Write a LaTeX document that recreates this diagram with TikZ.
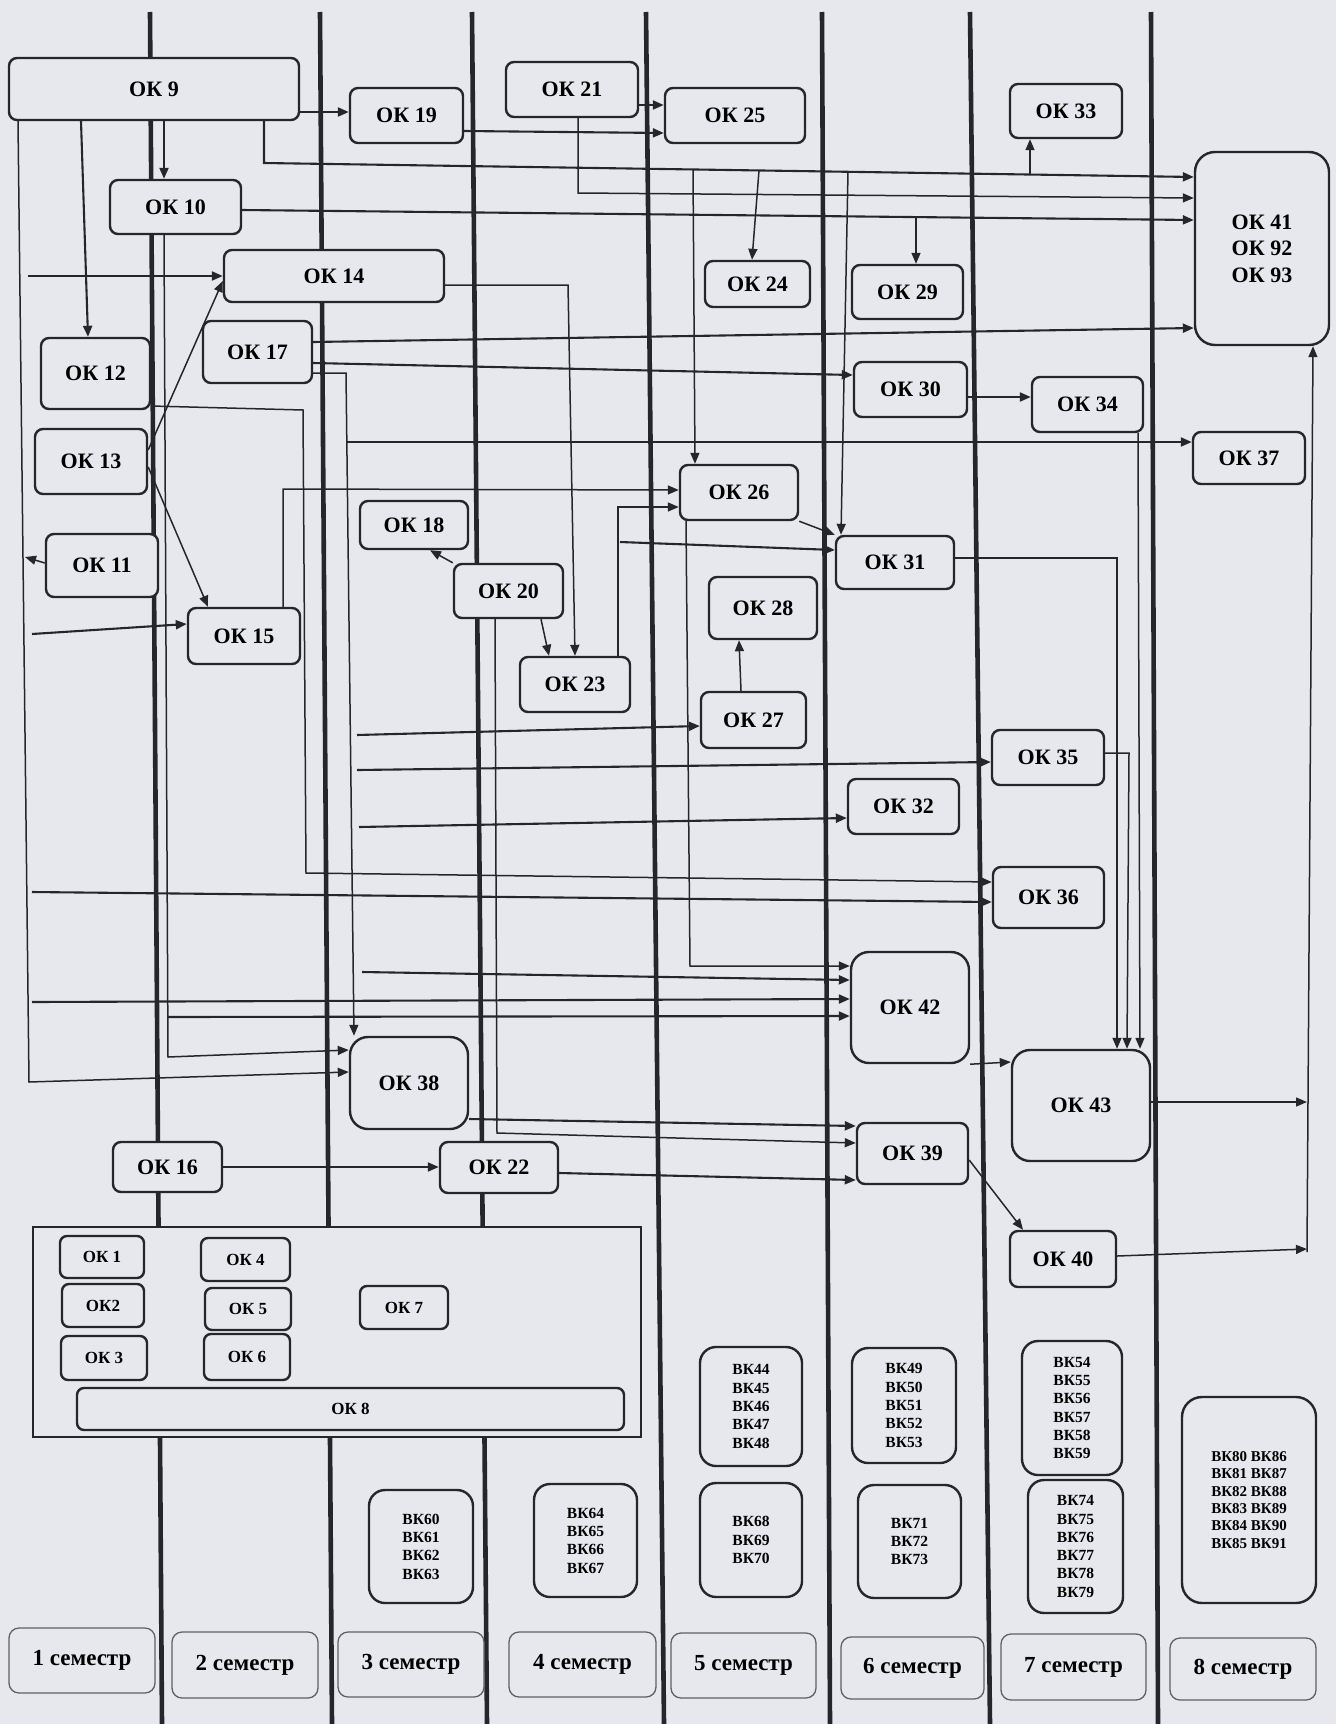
\documentclass[tikz,border=0pt]{standalone}
\usepackage{fontspec}
\setmainfont{Liberation Serif}
\usetikzlibrary{arrows.meta}
\definecolor{bg}{RGB}{231,232,238}
\definecolor{ink}{RGB}{38,38,42}
\definecolor{semink}{RGB}{95,95,100}
\begin{document}
\begin{tikzpicture}[x=1pt,y=-1pt,
  box/.style={draw=ink, line width=2.4pt, fill=bg, rounded corners=8pt, inner sep=0pt, align=center,
     font=\fontsize{22}{26.5}\selectfont\bfseries},
  bigbox/.style={box, rounded corners=18pt},
  sbox/.style={box, rounded corners=7pt, font=\fontsize{17}{20}\selectfont\bfseries},
  bkbox/.style={box, rounded corners=16pt, font=\fontsize{15.5}{18.3}\selectfont\bfseries},
  semlab/.style={draw=semink, line width=1.3pt, fill=bg, rounded corners=10pt, inner sep=0pt,
     font=\fontsize{23}{26}\selectfont\bfseries},
  semline/.style={draw=ink, line width=4.6pt},
  con/.style={draw=ink, line width=2.1pt},
  thin/.style={draw=ink, line width=1.5pt},
  arr/.style={-{Triangle[length=11pt,width=9pt]}}
]
\useasboundingbox (0,0) rectangle (1336,1724);
\fill[bg] (0,0) rectangle (1336,1724);

% semester lines
\draw[semline] (150,12) -- (162,1724);
\draw[semline] (320,12) -- (332,1724);
\draw[semline] (472,12) -- (487,1724);
\draw[semline] (646,12) -- (664,1724);
\draw[semline] (822,12) -- (830,1724);
\draw[semline] (970,12) -- (990,1724);
\draw[semline] (1151,12) -- (1158,1724);

% nodes
\node[box, minimum width=290, minimum height=62] (n9) at (154,89) {ОК 9};
\node[box, minimum width=113, minimum height=55] (n19) at (406.5,115.5) {ОК 19};
\node[box, minimum width=132, minimum height=55] (n21) at (572,89.5) {ОК 21};
\node[box, minimum width=140, minimum height=55] (n25) at (735,115.5) {ОК 25};
\node[box, minimum width=112, minimum height=54] (n33) at (1066,111) {ОК 33};
\node[box, rounded corners=20pt, minimum width=134, minimum height=193] (n41) at (1262,248.5) {ОК 41\\ОК 92\\ОК 93};
\node[box, minimum width=131, minimum height=54] (n10) at (175.5,207) {ОК 10};
\node[box, minimum width=220, minimum height=52] (n14) at (334,276) {ОК 14};
\node[box, minimum width=105, minimum height=46] (n24) at (757.5,284) {ОК 24};
\node[box, minimum width=111, minimum height=54] (n29) at (907.5,292) {ОК 29};
\node[box, minimum width=109, minimum height=62] (n17) at (257.5,352) {ОК 17};
\node[box, minimum width=109, minimum height=71] (n12) at (95.5,373.5) {ОК 12};
\node[box, minimum width=113, minimum height=55] (n30) at (910.5,389.5) {ОК 30};
\node[box, minimum width=111, minimum height=55] (n34) at (1087.5,404.5) {ОК 34};
\node[box, minimum width=112, minimum height=52] (n37) at (1249,458) {ОК 37};
\node[box, minimum width=112, minimum height=65] (n13) at (91,461.5) {ОК 13};
\node[box, minimum width=112, minimum height=63] (n11) at (102,565.5) {ОК 11};
\node[box, minimum width=112, minimum height=56] (n15) at (244,636) {ОК 15};
\node[box, minimum width=108, minimum height=48] (n18) at (414,525) {ОК 18};
\node[box, minimum width=109, minimum height=54] (n20) at (508.5,591) {ОК 20};
\node[box, minimum width=110, minimum height=55] (n23) at (575,684.5) {ОК 23};
\node[box, minimum width=118, minimum height=55] (n26) at (739,492.5) {ОК 26};
\node[box, minimum width=118, minimum height=53] (n31) at (895,562.5) {ОК 31};
\node[box, minimum width=108, minimum height=62] (n28) at (763,608) {ОК 28};
\node[box, minimum width=105, minimum height=56] (n27) at (753.5,720) {ОК 27};
\node[box, minimum width=112, minimum height=55] (n35) at (1048,757.5) {ОК 35};
\node[box, minimum width=111, minimum height=55] (n32) at (903.5,806.5) {ОК 32};
\node[box, minimum width=111, minimum height=61] (n36) at (1048.5,897.5) {ОК 36};
\node[bigbox, minimum width=118, minimum height=111] (n42) at (910,1007.5) {ОК 42};
\node[bigbox, minimum width=138, minimum height=111] (n43) at (1081,1105.5) {ОК 43};
\node[box, minimum width=111, minimum height=61] (n39) at (912.5,1153.5) {ОК 39};
\node[box, minimum width=106, minimum height=56] (n40) at (1063,1259) {ОК 40};
\node[bigbox, minimum width=118, minimum height=92] (n38) at (409,1083) {ОК 38};
\node[box, minimum width=109, minimum height=50] (n16) at (167.5,1167) {ОК 16};
\node[box, minimum width=118, minimum height=51] (n22) at (499,1167.5) {ОК 22};

% group of general courses
\node[draw=ink, line width=2.6pt, fill=bg, minimum width=608, minimum height=210, inner sep=0pt] (grp) at (337,1332) {};
\node[sbox, minimum width=84, minimum height=42] (n1) at (102,1257) {ОК 1};
\node[sbox, minimum width=89, minimum height=43] (n4) at (245.5,1259.5) {ОК 4};
\node[sbox, minimum width=82, minimum height=43] (n2) at (103,1305.5) {ОК2};
\node[sbox, minimum width=86, minimum height=42] (n5) at (248,1309) {ОК 5};
\node[sbox, minimum width=88, minimum height=43] (n7) at (404,1307.5) {ОК 7};
\node[sbox, minimum width=86, minimum height=44] (n3) at (104,1358) {ОК 3};
\node[sbox, minimum width=86, minimum height=46] (n6) at (247,1357) {ОК 6};
\node[sbox, minimum width=547, minimum height=42] (n8) at (350.5,1409) {ОК 8};

% elective blocks
\node[bkbox, minimum width=104, minimum height=113] (bk60) at (421,1546.5) {ВК60\\ВК61\\ВК62\\ВК63};
\node[bkbox, minimum width=103, minimum height=113] (bk64) at (585.5,1540.5) {ВК64\\ВК65\\ВК66\\ВК67};
\node[bkbox, minimum width=102, minimum height=119] (bk44) at (751,1406.5) {ВК44\\ВК45\\ВК46\\ВК47\\ВК48};
\node[bkbox, minimum width=102, minimum height=114] (bk68) at (751,1540) {ВК68\\ВК69\\ВК70};
\node[bkbox, minimum width=104, minimum height=115] (bk49) at (904,1405.5) {ВК49\\ВК50\\ВК51\\ВК52\\ВК53};
\node[bkbox, minimum width=103, minimum height=113] (bk71) at (909.5,1541.5) {ВК71\\ВК72\\ВК73};
\node[bkbox, minimum width=100, minimum height=134] (bk54) at (1072,1408) {ВК54\\ВК55\\ВК56\\ВК57\\ВК58\\ВК59};
\node[bkbox, minimum width=95, minimum height=133] (bk74) at (1075.5,1546.5) {ВК74\\ВК75\\ВК76\\ВК77\\ВК78\\ВК79};
\node[bkbox, rounded corners=20pt, minimum width=134, minimum height=206, font=\fontsize{15}{17.3}\selectfont\bfseries] (bk80) at (1249,1500) {ВК80 ВК86\\ВК81 ВК87\\ВК82 ВК88\\ВК83 ВК89\\ВК84 ВК90\\ВК85 ВК91};

% semester labels
\node[semlab, minimum width=146, minimum height=65] (s1) at (82,1660.5) {1 семестр};
\node[semlab, minimum width=146, minimum height=66] (s2) at (245,1665) {2 семестр};
\node[semlab, minimum width=146, minimum height=65] (s3) at (411,1664.5) {3 семестр};
\node[semlab, minimum width=147, minimum height=65] (s4) at (582.5,1664.5) {4 семестр};
\node[semlab, minimum width=145, minimum height=65] (s5) at (743.5,1665.5) {5 семестр};
\node[semlab, minimum width=143, minimum height=62] (s6) at (912.5,1668) {6 семестр};
\node[semlab, minimum width=145, minimum height=66] (s7) at (1073.5,1667) {7 семестр};
\node[semlab, minimum width=146, minimum height=62] (s8) at (1243,1669) {8 семестр};

% free ends and bend points
\coordinate (s14) at (28,276);
\coordinate (s15) at (32,634);
\coordinate (s36) at (32,892);
\coordinate (s42b) at (32,1002);
\coordinate (s27) at (357,735);
\coordinate (s35) at (357,770);
\coordinate (s32) at (359,827);
\coordinate (s42a) at (362,972);
\coordinate (lv9) at (29,1082);
\coordinate (lv11) at (25,557);
\coordinate (b9) at (264,163);
\coordinate (bb26) at (693,169.5);
\coordinate (bb24) at (759,170.4);
\coordinate (bb31) at (848,171.8);
\coordinate (bb33) at (1030,174.5);
\coordinate (b21) at (578,193);
\coordinate (bb29) at (916,217);
\coordinate (b10) at (168,1057);
\coordinate (bb10) at (167,1017);
\coordinate (b12a) at (303,410);
\coordinate (b12b) at (306,873);
\coordinate (b14) at (568,285);
\coordinate (b17) at (346,373);
\coordinate (bb37) at (347,442);
\coordinate (b15) at (283,489);
\coordinate (b20) at (497,1133);
\coordinate (b23) at (618,507);
\coordinate (bb31b) at (620,542);
\coordinate (b26) at (690,966);
\coordinate (b31) at (1117,558);
\coordinate (b35) at (1129,753);
\coordinate (r43) at (1307,1102);
\coordinate (r40) at (1307,1249);
\coordinate (rv) at (1307,1252);

% connectors
\draw[con,arr] (n9.east |- 0,112) -- (n19.west |- 0,112);
\draw[con,arr] (n9.south -| 164,0) -- (n10.north -| 164,0);
\draw[con,arr] (n9.south -| 81,0) -- (n12.north -| 88,0);
\draw[thin,arr] (n9.south -| 18,0) -- (lv9) -- (n38.west |- 0,1072);
\draw[thin,arr] (n11.west |- 0,563) -- (lv11);
\draw[con,arr] (n9.south -| 264,0) -- (b9) -- (n41.west |- 0,177);
\draw[thin,arr] (bb26) -- (n26.north -| 695,0);
\draw[thin,arr] (bb24) -- (n24.north -| 752,0);
\draw[thin,arr] (bb31) -- (n31.north -| 841,0);
\draw[thin,arr] (bb33) -- (n33.south -| 1030,0);
\draw[con,arr] (n21.east |- 0,105) -- (n25.west |- 0,105);
\draw[thin,arr] (n21.south -| 578,0) -- (b21) -- (n41.west |- 0,198);
\draw[con,arr] (n19.east |- 0,131) -- (n25.west |- 0,133);
\draw[con,arr] (n10.east |- 0,210) -- (n41.west |- 0,220);
\draw[thin,arr] (bb29) -- (n29.north -| 916,0);
\draw[thin,arr] (n10.south -| 164,0) -- (b10) -- (n38.west |- 0,1050);
\draw[con,arr] (bb10) -- (n42.west |- 0,1016);
\draw[con,arr] (s14) -- (n14.west |- 0,276);
\draw[thin,arr] (n13.east |- 0,450) -- (n14.west |- 0,281);
\draw[thin,arr] (n13.east |- 0,467) -- (n15.north -| 208,0);
\draw[con,arr] (s15) -- (n15.west |- 0,624);
\draw[thin,arr] (n12.east |- 0,406) -- (b12a) -- (b12b) -- (n36.west |- 0,882);
\draw[thin,arr] (n14.east |- 0,285) -- (b14) -- (n23.north -| 575,0);
\draw[con,arr] (n17.east |- 0,342) -- (n41.west |- 0,328);
\draw[con,arr] (n17.east |- 0,363) -- (n30.west |- 0,375);
\draw[thin,arr] (n17.east |- 0,373) -- (b17) -- (n38.north -| 354,0);
\draw[con,arr] (bb37) -- (n37.west |- 0,442);
\draw[thin,arr] (n15.north -| 283,0) -- (b15) -- (n26.west |- 0,490);
\draw[thin,arr] (n20.north west) -- (n18.south -| 430,0);
\draw[thin,arr] (n20.south -| 541,0) -- (n23.north -| 549,0);
\draw[thin,arr] (n20.south -| 495,0) -- (b20) -- (n39.west |- 0,1143);
\draw[thin,arr] (n23.north -| 618,0) -- (b23) -- (n26.west |- 0,507);
\draw[con,arr] (bb31b) -- (n31.west |- 0,550);
\draw[thin,arr] (n26.south east) -- (n31.north west);
\draw[thin,arr] (n26.south -| 686,0) -- (b26) -- (n42.west |- 0,966);
\draw[thin,arr] (n27.north -| 741,0) -- (n28.south -| 739,0);
\draw[con,arr] (s27) -- (n27.west |- 0,726);
\draw[con,arr] (s35) -- (n35.west |- 0,762);
\draw[con,arr] (s32) -- (n32.west |- 0,818);
\draw[con,arr] (s36) -- (n36.west |- 0,902);
\draw[con,arr] (s42a) -- (n42.west |- 0,980);
\draw[con,arr] (s42b) -- (n42.west |- 0,999);
\draw[con,arr] (n30.east |- 0,397) -- (n34.west |- 0,397);
\draw[thin,arr] (n31.east |- 0,558) -- (b31) -- (n43.north -| 1117,0);
\draw[thin,arr] (n35.east |- 0,753) -- (b35) -- (n43.north -| 1127,0);
\draw[thin,arr] (n34.south -| 1138,0) -- (n43.north -| 1140,0);
\draw[thin,arr] (n42.south east) -- (n43.west |- 0,1062);
\draw[thin,arr] (n39.east |- 0,1160) -- (n40.north -| 1023,0);
\draw[con,arr] (n38.east |- 0,1119) -- (n39.west |- 0,1126);
\draw[con,arr] (n22.east |- 0,1173) -- (n39.west |- 0,1180);
\draw[con,arr] (n16.east |- 0,1167) -- (n22.west |- 0,1167);
\draw[thin,arr] (n43.east |- 0,1102) -- (r43);
\draw[thin,arr] (n40.east |- 0,1256) -- (r40);
\draw[thin,arr] (rv) -- (n41.south -| 1313,0);
\end{tikzpicture}
\end{document}
